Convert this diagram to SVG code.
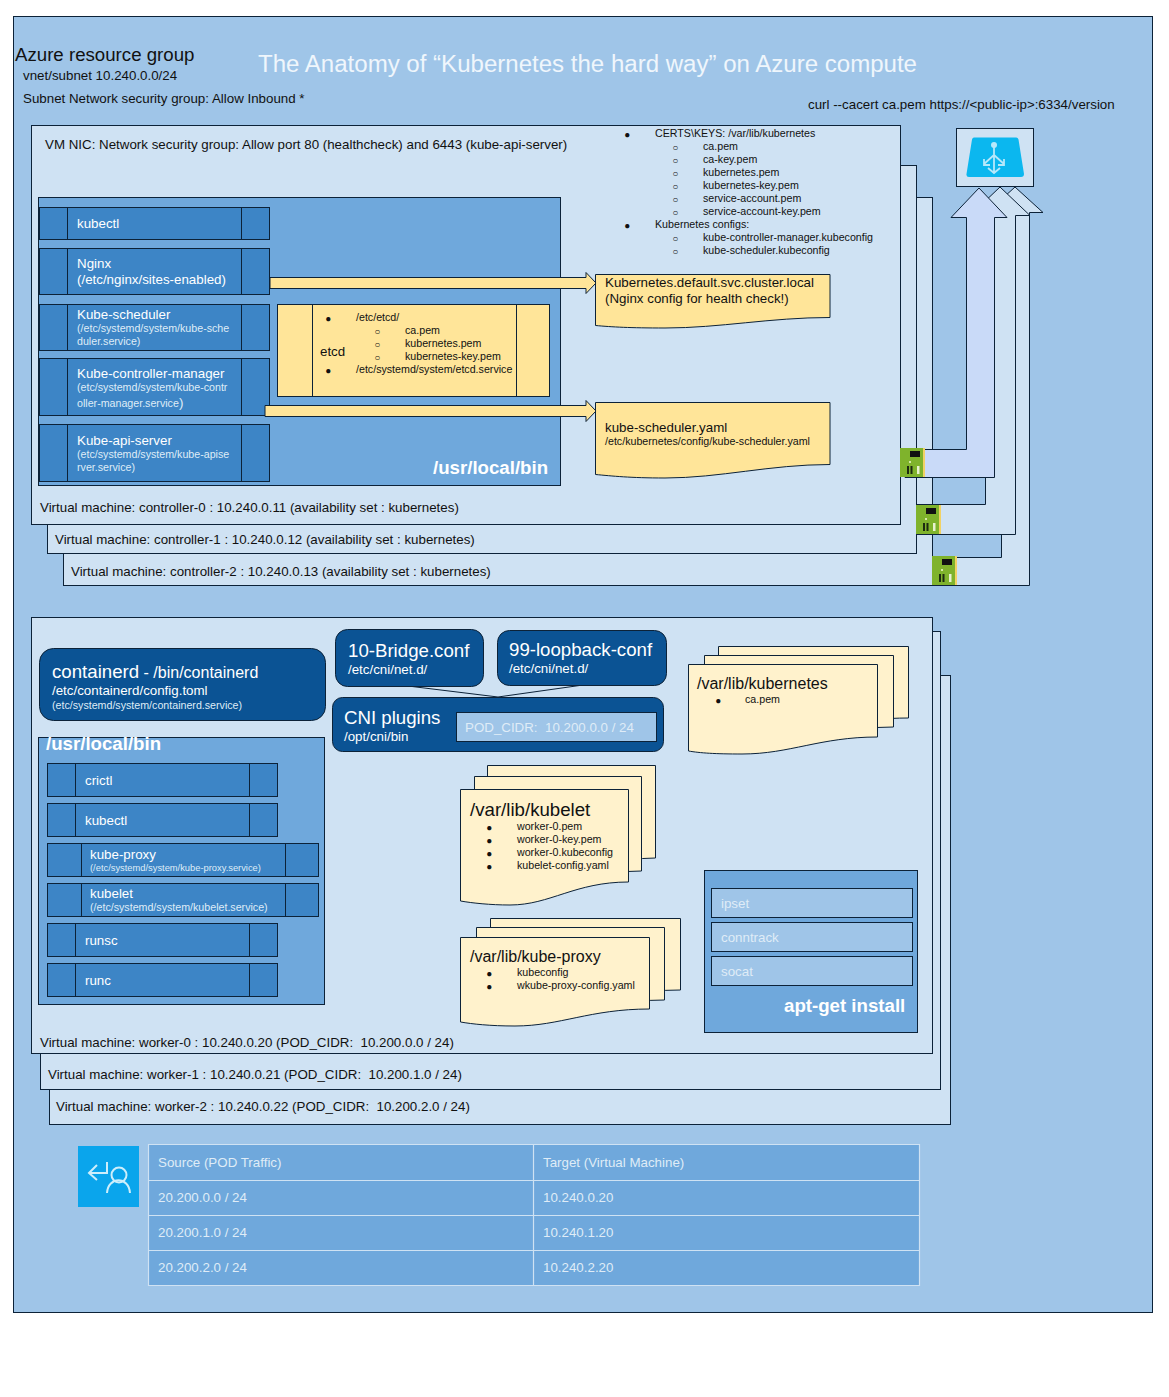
<svg xmlns="http://www.w3.org/2000/svg" width="1169" height="1397" viewBox="0 0 1169 1397">
<defs>
<style>
text{font-family:"Liberation Sans",Arial,sans-serif;font-size:13.33px;fill:#111;white-space:pre}
.w{fill:#fff}.l{fill:#dfecf7}.s{font-size:10.67px}.xs{font-size:9.33px}.b{font-size:18.67px}.m{font-size:16px}
.bold{font-weight:bold;font-size:18.67px;fill:#fff}
.st{stroke:#0c2238;stroke-width:1}
.bg{fill:#9fc5e8}.vm{fill:#cfe2f3}.bin{fill:#6fa8dc}.blk{fill:#3d85c6}.yel{fill:#ffe599}.drk{fill:#0b5394}.crm{fill:#fff2cc}
.bul{font-size:10px;transform:translate(-0.800px,0.700px)}
.none{fill:none}
</style>
<g id="nicicon">
<rect x="0" y="0" width="23" height="29" fill="#7fb32c"/>
<rect x="23" y="0" width="2" height="29" fill="#f1d264"/>
<rect x="10" y="3" width="10" height="6" fill="#111"/>
<rect x="7" y="18" width="2" height="8" fill="#1c2a10"/>
<rect x="10.500" y="18" width="2" height="8" fill="#1c2a10"/>
<rect x="17" y="18" width="2.500" height="8" fill="#e8f2d0"/>
<rect x="9" y="13" width="2" height="2" fill="#d5e8a8"/>
</g>
</defs>
<g id="resource-group">
<rect x="13.500" y="16.500" width="1139" height="1296" class="bg st"/>
<text x="15" y="61" class="b">Azure resource group</text>
<text x="23" y="80">vnet/subnet 10.240.0.0/24</text>
<text x="23" y="103">Subnet Network security group: Allow Inbound *</text>
<text x="258" y="72" style="font-size:24.050px;fill:#eff6fc">The Anatomy of “Kubernetes the hard way” on Azure compute</text>
<text x="808" y="109">curl --cacert ca.pem https://&lt;public-ip&gt;:6334/version</text>
</g>
<g id="vm-controller-2">
<rect x="63.500" y="197.500" width="869" height="388" class="vm st"/>
<text x="71" y="576">Virtual machine: controller-2 : 10.240.0.13 (availability set : kubernetes)</text>
</g>
<g id="vm-controller-1">
<rect x="47.500" y="165.500" width="869" height="388" class="vm st"/>
<text x="55" y="544">Virtual machine: controller-1 : 10.240.0.12 (availability set : kubernetes)</text>
</g>
<g id="connectors-nic">
<path class="st" fill="#cfe2f3" d="M933,557.500H1001.500V212.500H987L1015,187L1043,212.500H1029.500V585.500H933Z"/>
<path class="st" fill="#cfe2f3" d="M917,504.500H985.500V215.500H970L1000,187L1030,215.500H1015.500V534.500H917Z"/>
<path class="st" fill="#c9daf8" d="M905,449.500H966.500V217.500H951L979,188L1007,217.500H994.500V477.500H905Z"/>
</g>
<g id="vm-controller-0">
<rect x="31.500" y="125.500" width="869" height="399" class="vm st"/>
<text x="45" y="149">VM NIC: Network security group: Allow port 80 (healthcheck) and 6443 (kube-api-server)</text>
<text x="40" y="512">Virtual machine: controller-0 : 10.240.0.11 (availability set : kubernetes)</text>
</g>
<g id="certs">
<text x="625" y="137" class="bul">●</text><text x="655" y="137" class="s">CERTS\KEYS: /var/lib/kubernetes</text>
<text x="673" y="150" class="bul">○</text><text x="703" y="150" class="s">ca.pem</text>
<text x="673" y="163" class="bul">○</text><text x="703" y="163" class="s">ca-key.pem</text>
<text x="673" y="176" class="bul">○</text><text x="703" y="176" class="s">kubernetes.pem</text>
<text x="673" y="189" class="bul">○</text><text x="703" y="189" class="s">kubernetes-key.pem</text>
<text x="673" y="202" class="bul">○</text><text x="703" y="202" class="s">service-account.pem</text>
<text x="673" y="215" class="bul">○</text><text x="703" y="215" class="s">service-account-key.pem</text>
<text x="625" y="228" class="bul">●</text><text x="655" y="228" class="s">Kubernetes configs:</text>
<text x="673" y="241" class="bul">○</text><text x="703" y="241" class="s">kube-controller-manager.kubeconfig</text>
<text x="673" y="254" class="bul">○</text><text x="703" y="254" class="s">kube-scheduler.kubeconfig</text>
</g>
<g id="controller-bin">
<rect x="38.500" y="197.500" width="522" height="288" class="bin st"/>
<text x="433" y="474" class="bold">/usr/local/bin</text>
</g>
<g id="kubectl-c">
<rect x="39.500" y="207.500" width="230" height="32" class="blk st"/><path class="st" d="M67.500,207.500V239.500M241.500,207.500V239.500"/>
<text x="77" y="228" class="w">kubectl</text>
</g>
<g id="nginx">
<rect x="39.500" y="248.500" width="230" height="46" class="blk st"/><path class="st" d="M67.500,248.500V294.500M241.500,248.500V294.500"/>
<text x="77" y="268" class="w">Nginx</text><text x="77" y="284" class="w">(/etc/nginx/sites-enabled)</text>
</g>
<g id="kube-scheduler">
<rect x="39.500" y="304.500" width="230" height="46" class="blk st"/><path class="st" d="M67.500,304.500V350.500M241.500,304.500V350.500"/>
<text x="77" y="319" class="w">Kube-scheduler</text><text x="77" y="332" class="l s">(/etc/systemd/system/kube-sche</text><text x="77" y="345" class="l s">duler.service)</text>
</g>
<g id="kube-controller-manager">
<rect x="39.500" y="358.500" width="230" height="57" class="blk st"/><path class="st" d="M67.500,358.500V415.500M241.500,358.500V415.500"/>
<text x="77" y="378" class="w">Kube-controller-manager</text><text x="77" y="391" class="l s">(etc/systemd/system/kube-contr</text><text x="77" y="407" class="l s">oller-manager.service<tspan style="font-size:13.33px">)</tspan></text>
</g>
<g id="kube-api-server">
<rect x="39.500" y="424.500" width="230" height="57" class="blk st"/><path class="st" d="M67.500,424.500V481.500M241.500,424.500V481.500"/>
<text x="77" y="445" class="w">Kube-api-server</text><text x="77" y="458" class="l s">(etc/systemd/system/kube-apise</text><text x="77" y="471" class="l s">rver.service)</text>
</g>
<g id="etcd">
<rect x="277.500" y="304.500" width="272" height="92" class="yel st"/><path class="st" d="M312.500,304.500V396.500M516.500,304.500V396.500"/>
<text x="320" y="356">etcd</text>
<text x="326" y="321" class="bul">●</text><text x="356" y="321" class="s">/etc/etcd/</text>
<text x="375" y="334" class="bul">○</text><text x="405" y="334" class="s">ca.pem</text>
<text x="375" y="347" class="bul">○</text><text x="405" y="347" class="s">kubernetes.pem</text>
<text x="375" y="360" class="bul">○</text><text x="405" y="360" class="s">kubernetes-key.pem</text>
<text x="326" y="373" class="bul">●</text><text x="356" y="373" class="s">/etc/systemd/system/etcd.service</text>
</g>
<g id="note-nginx">
<path class="yel st" d="M595.500,274.500H830V317.500C770,317.500 720,328 665,328C630,328 612,327 595.500,325.500Z"/>
<text x="605" y="287">Kubernetes.default.svc.cluster.local</text><text x="605" y="303">(Nginx config for health check!)</text>
</g>
<g id="note-scheduler">
<path class="yel st" d="M595.500,402.500H830V464.500C770,464.500 720,478 665,478C630,478 612,476 595.500,474.500Z"/>
<text x="605" y="432">kube-scheduler.yaml</text><text x="605" y="445" class="s">/etc/kubernetes/config/kube-scheduler.yaml</text>
</g>
<g id="connectors-yellow">
<path class="yel st" d="M270,277.500H586V272.500L596,283L586,293.500V288.500H270Z"/>
<path class="yel st" d="M265,405.500H586V400.500L596,411L586,421.500V416.500H265Z"/>
</g>
<g id="load-balancer">
<rect x="956.500" y="128.500" width="77" height="58" class="vm st"/>
<path d="M974,137.500H1016Q1018,137.500 1018.500,139.500L1024,174Q1024,177 1021,177H969Q966,177 966.500,174L972,139.500Q972.500,137.500 974,137.500Z" fill="#0bb7ef"/>
<g fill="none" stroke="#b7e8fa" stroke-width="1.800"><path d="M994,145V172M994,155L984,164M994,155L1004,164M988,168L994,173L1000,168M984,159V165H990M1004,159V165H998"/></g>
<circle cx="994" cy="145" r="3" fill="#b7e8fa"/>
</g>
<g id="nic-0"><use href="#nicicon" x="900" y="448"/></g>
<g id="nic-1"><use href="#nicicon" x="916" y="505"/></g>
<g id="nic-2"><use href="#nicicon" x="932" y="556"/></g>
<g id="vm-worker-2">
<rect x="49.500" y="675.500" width="901" height="449" class="vm st"/>
<text x="56" y="1111">Virtual machine: worker-2 : 10.240.0.22 (POD_CIDR:  10.200.2.0 / 24)</text>
</g>
<g id="vm-worker-1">
<rect x="40.500" y="631.500" width="900" height="458" class="vm st"/>
<text x="48" y="1079">Virtual machine: worker-1 : 10.240.0.21 (POD_CIDR:  10.200.1.0 / 24)</text>
</g>
<g id="vm-worker-0">
<rect x="31.500" y="617.500" width="901" height="436" class="vm st"/>
<text x="40" y="1047">Virtual machine: worker-0 : 10.240.0.20 (POD_CIDR:  10.200.0.0 / 24)</text>
</g>
<g id="connectors-cni">
<path class="none st" d="M408,686L498,697L583,685"/>
</g>
<g id="containerd">
<rect x="39.500" y="648.500" width="286" height="72" rx="14" class="drk st"/>
<text x="52" y="678" class="w b">containerd<tspan class="m"> - /bin/containerd</tspan></text>
<text x="52" y="695" class="w">/etc/containerd/config.toml</text>
<text x="52" y="709" class="l s">(etc/systemd/system/containerd.service)</text>
</g>
<g id="bridge-conf">
<rect x="335.500" y="629.500" width="148" height="57" rx="12" class="drk st"/>
<text x="348" y="657" class="w b">10-Bridge.conf</text><text x="348" y="674" class="w">/etc/cni/net.d/</text>
</g>
<g id="loopback-conf">
<rect x="497.500" y="630.500" width="169" height="55" rx="12" class="drk st"/>
<text x="509" y="656" class="w b">99-loopback-conf</text><text x="509" y="673" class="w">/etc/cni/net.d/</text>
</g>
<g id="cni-plugins">
<rect x="332.500" y="697.500" width="331" height="54" rx="10" class="drk st"/>
<text x="344" y="724" class="w b">CNI plugins</text><text x="344" y="741" class="w">/opt/cni/bin</text>
<rect x="456.500" y="712.500" width="200" height="29" class="bg st"/>
<text x="465" y="732" class="l">POD_CIDR:  10.200.0.0 / 24</text>
</g>
<g id="worker-bin">
<rect x="38.500" y="737.500" width="286" height="267" class="bin st"/>
<text x="46" y="750" class="bold">/usr/local/bin</text>
</g>
<g id="crictl">
<rect x="47.500" y="763.500" width="230" height="33" class="blk st"/><path class="st" d="M75.500,763.500V796.500M249.500,763.500V796.500"/>
<text x="85" y="785" class="w">crictl</text>
</g>
<g id="kubectl-w">
<rect x="47.500" y="803.500" width="230" height="33" class="blk st"/><path class="st" d="M75.500,803.500V836.500M249.500,803.500V836.500"/>
<text x="85" y="825" class="w">kubectl</text>
</g>
<g id="kube-proxy">
<rect x="47.500" y="843.500" width="271" height="33" class="blk st"/><path class="st" d="M81.500,843.500V876.500M285.500,843.500V876.500"/>
<text x="90" y="859" class="w">kube-proxy</text><text x="90" y="871" class="l xs">(/etc/systemd/system/kube-proxy.service)</text>
</g>
<g id="kubelet">
<rect x="47.500" y="883.500" width="271" height="33" class="blk st"/><path class="st" d="M81.500,883.500V916.500M285.500,883.500V916.500"/>
<text x="90" y="898" class="w">kubelet</text><text x="90" y="911" class="l s">(/etc/systemd/system/kubelet.service)</text>
</g>
<g id="runsc">
<rect x="47.500" y="923.500" width="230" height="33" class="blk st"/><path class="st" d="M75.500,923.500V956.500M249.500,923.500V956.500"/>
<text x="85" y="945" class="w">runsc</text>
</g>
<g id="runc">
<rect x="47.500" y="963.500" width="230" height="33" class="blk st"/><path class="st" d="M75.500,963.500V996.500M249.500,963.500V996.500"/>
<text x="85" y="985" class="w">runc</text>
</g>
<g id="doc-kubernetes">
<path class="crm st" d="M718.500,646.500H908.500V718C860,718 830,728 790,728H718.500Z"/>
<path class="crm st" d="M704.500,655.500H893.500V727C850,727 815,738 775,740H704.500Z"/>
<path class="crm st" d="M688.500,664.500H877.500V737C820,737 790,754 742,754C715,754 700,753 688.500,751Z"/>
<text x="697" y="689" class="m">/var/lib/kubernetes</text>
<text x="716" y="703" class="bul">●</text><text x="745" y="703" class="s">ca.pem</text>
</g>
<g id="doc-kubelet">
<path class="crm st" d="M487.500,765.500H655.500V858C620,858 590,870 560,870H487.500Z"/>
<path class="crm st" d="M474.500,776.500H641.500V871C605,871 575,882 550,884H474.500Z"/>
<path class="crm st" d="M460.500,789.500H628.500V882C575,882 550,905 510,905C490,905 472,903 460.500,901Z"/>
<text x="470" y="816" class="b">/var/lib/kubelet</text>
<text x="487" y="830" class="bul">●</text><text x="517" y="830" class="s">worker-0.pem</text>
<text x="487" y="843" class="bul">●</text><text x="517" y="843" class="s">worker-0-key.pem</text>
<text x="487" y="856" class="bul">●</text><text x="517" y="856" class="s">worker-0.kubeconfig</text>
<text x="487" y="869" class="bul">●</text><text x="517" y="869" class="s">kubelet-config.yaml</text>
</g>
<g id="doc-kube-proxy">
<path class="crm st" d="M490.500,918.500H680.500V990C640,990 610,998 580,1000H490.500Z"/>
<path class="crm st" d="M476.500,927.500H664.500V1000C625,1000 595,1009 565,1010H476.500Z"/>
<path class="crm st" d="M460.500,937.500H649.500V1009C590,1009 560,1026 515,1026C490,1026 472,1024 460.500,1022Z"/>
<text x="470" y="962" class="m">/var/lib/kube-proxy</text>
<text x="487" y="976" class="bul">●</text><text x="517" y="976" class="s">kubeconfig</text>
<text x="487" y="989" class="bul">●</text><text x="517" y="989" class="s">wkube-proxy-config.yaml</text>
</g>
<g id="apt-get">
<rect x="704.500" y="870.500" width="213" height="162" class="bin st"/>
<rect x="711.500" y="888.500" width="201" height="29" class="bg st"/><text x="721" y="908" class="l">ipset</text>
<rect x="711.500" y="922.500" width="201" height="29" class="bg st"/><text x="721" y="942" class="l">conntrack</text>
<rect x="711.500" y="956.500" width="201" height="29" class="bg st"/><text x="721" y="976" class="l">socat</text>
<text x="784" y="1012" class="bold">apt-get install</text>
</g>
<g id="route-table-icon">
<rect x="78" y="1146" width="61" height="61" fill="#0aa5ec"/>
<g fill="none" stroke="#cdeefb" stroke-width="2"><path d="M107,1162V1173H90M97,1165L89,1173L97,1180"/><circle cx="119" cy="1175" r="7.500"/><path d="M107,1193C108,1176 129,1176 130,1193"/></g>
</g>
<g id="route-table">
<rect x="148.500" y="1144.500" width="771" height="141" class="bin"/>
<path fill="none" stroke="#cfe2f3" stroke-width="1.200" d="M148.500,1144.500H919.500V1285.500H148.500ZM148.500,1180.500H919.500M148.500,1215.500H919.500M148.500,1250.500H919.500M533.500,1144.500V1285.500"/>
<text x="158" y="1167" class="l">Source (POD Traffic)</text><text x="543" y="1167" class="l">Target (Virtual Machine)</text>
<text x="158" y="1202" class="l">20.200.0.0 / 24</text><text x="543" y="1202" class="l">10.240.0.20</text>
<text x="158" y="1237" class="l">20.200.1.0 / 24</text><text x="543" y="1237" class="l">10.240.1.20</text>
<text x="158" y="1272" class="l">20.200.2.0 / 24</text><text x="543" y="1272" class="l">10.240.2.20</text>
</g>
</svg>
